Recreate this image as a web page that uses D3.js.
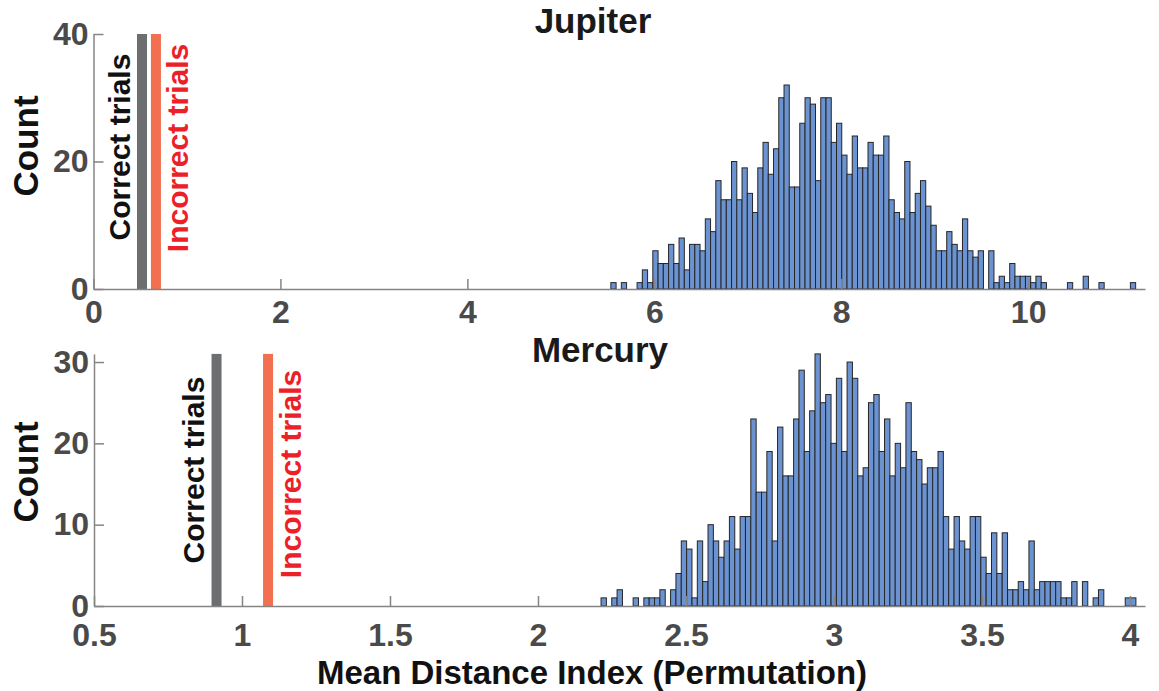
<!DOCTYPE html>
<html>
<head>
<meta charset="utf-8">
<script src="https://cdn.jsdelivr.net/npm/d3@7"></script>
<style>
  body { margin: 0; background: #fff; }
  svg text { font-family: "Liberation Sans", Arial, sans-serif; font-weight: bold; }
</style>
</head>
<body>
<svg id="chart" width="1159" height="691"></svg>
<script>
// permutation histograms, 100 bins each (1000 permutations)
const jupiterCounts = [
  1, 0, 1, 0, 0, 1, 3, 1, 6, 4, 4, 7, 4, 8, 3, 7, 7, 6, 11, 9,
  17, 14, 14, 20, 14, 19, 15, 12, 19, 23, 18, 22, 30, 32,
  16, 16, 26, 30, 29, 17, 30, 30, 23, 26, 21, 18, 24, 19, 19, 23,
  21, 21, 24, 14, 12, 11, 20, 12, 15, 17, 13, 10, 6, 6, 9, 7, 6, 11, 6, 5, 6,
  0, 6, 1, 2, 1, 4, 2, 2, 2, 1, 2, 1,
  0, 0, 0, 0, 1, 0, 0, 2, 0, 0, 1, 0, 0, 0, 0, 0, 1
];
const mercuryCounts = [
  1, 0, 1, 2, 0, 0, 1, 0, 1, 1, 1, 2, 0, 2, 4, 8, 7, 1, 8, 3,
  10, 8, 6, 8, 11, 7, 11, 11, 23, 14, 14, 19,
  8, 22, 16, 16, 23, 29, 19, 24, 31, 25, 26, 20, 28, 19, 30, 28, 16, 17,
  25, 26, 19, 23, 16, 20, 17, 25, 19, 18, 15, 17, 17, 19, 11, 7,
  11, 8, 7, 11, 11, 6, 4, 9, 4, 9, 2, 2, 3, 2, 8, 2, 3, 3, 3, 3,
  1, 1, 3, 0, 3, 0, 1, 2, 0, 0, 0, 0, 1, 1
];
const jupiterBinRange = [5.535, 11.15];
const mercuryBinRange = [2.213, 4.02];

// observed mean distance for real trials
const trialNames = ["Correct trials", "Incorrect trials"];
const jupiterTrialValues = [0.519, 0.668];
const mercuryTrialValues = [0.914, 1.088];

const jupiterXTicks = [0, 2, 4, 6, 8, 10];
const jupiterYTicks = [0, 20, 40];
const mercuryXTicks = [0.5, 1, 1.5, 2, 2.5, 3, 3.5, 4];
const mercuryYTicks = [0, 10, 20, 30];

const svg = d3.select("#chart");
svg.append("rect").attr("width", 1159).attr("height", 691).attr("fill", "#fff");

const trialColors = ["#6d6e70", "#f26f50"];
const trialTextColors = ["#111", "#ec2027"];

function drawPanel(p) {
  const x = d3.scaleLinear().domain(p.xDomain).range([p.left, p.right]);
  const y = d3.scaleLinear().domain(p.yDomain).range([p.bottom, p.top]);
  const g = svg.append("g");

  const n = p.counts.length;
  const step = (p.binRange[1] - p.binRange[0]) / n;
  const bins = p.counts.map((c, i) => ({
    x0: p.binRange[0] + i * step,
    x1: p.binRange[0] + (i + 1) * step,
    count: c
  }));

  g.selectAll("rect.bar")
    .data(bins)
    .join("rect")
    .attr("class", "bar")
    .attr("x", d => x(d.x0))
    .attr("width", d => x(d.x1) - x(d.x0))
    .attr("y", d => y(d.count))
    .attr("height", d => y(0) - y(d.count))
    .attr("fill", "#6b93d1")
    .attr("stroke", "#262626")
    .attr("stroke-width", 1);

  // trial markers
  const trials = trialNames.map((name, i) => ({ name, value: p.trials[i], i }));
  g.selectAll("rect.trial")
    .data(trials)
    .join("rect")
    .attr("class", "trial")
    .attr("x", d => x(d.value) - 5)
    .attr("width", 10)
    .attr("y", y(p.yDomain[1]))
    .attr("height", y(0) - y(p.yDomain[1]))
    .attr("fill", d => trialColors[d.i]);

  g.selectAll("text.trial")
    .data(trials)
    .join("text")
    .attr("class", "trial")
    .attr("transform", d => `translate(${x(d.value) + (d.i === 0 ? -23 : 22)},${p.labelY[d.i]}) rotate(-90)`)
    .attr("text-anchor", "middle")
    .attr("dy", "0.35em")
    .attr("font-size", 30)
    .attr("fill", d => trialTextColors[d.i])
    .text(d => d.name);

  // axes
  const xAxis = g.append("g")
    .attr("transform", `translate(0,${p.bottom})`)
    .call(d3.axisBottom(x).tickValues(p.xTicks).tickSizeInner(-10).tickSizeOuter(0)
      .tickPadding(p.xPad).tickFormat(d3.format("")));
  const yAxis = g.append("g")
    .attr("transform", `translate(${p.left},0)`)
    .call(d3.axisLeft(y).tickValues(p.yTicks).tickSizeInner(-10).tickSizeOuter(0).tickPadding(5));

  [xAxis, yAxis].forEach(a => {
    a.select(".domain").attr("stroke", "#858585").attr("stroke-width", 1.5);
    a.selectAll(".tick line").attr("stroke", "#858585").attr("stroke-width", 1.5);
    a.selectAll(".tick text")
      .attr("font-size", 32)
      .attr("fill", "#4a4a4a")
      .style("font-family", "'Liberation Sans', Arial, sans-serif")
      .style("font-weight", "bold");
  });

  g.append("text")
    .attr("x", p.titleX)
    .attr("y", p.titleY)
    .attr("text-anchor", "middle")
    .attr("font-size", 35)
    .attr("fill", "#1a1a1a")
    .text(p.title);

  g.append("text")
    .attr("transform", `translate(26,${p.countY}) rotate(-90)`)
    .attr("text-anchor", "middle")
    .attr("dy", "0.35em")
    .attr("font-size", 35)
    .attr("fill", "#111")
    .text("Count");
}

drawPanel({
  title: "Jupiter", titleX: 593, titleY: 33,
  counts: jupiterCounts, binRange: jupiterBinRange, trials: jupiterTrialValues,
  xDomain: [0, 11.25], yDomain: [0, 40],
  xTicks: jupiterXTicks, yTicks: jupiterYTicks,
  left: 93.5, right: 1145, top: 34, bottom: 289,
  xPad: 11, labelY: [147, 148], countY: 146
});

drawPanel({
  title: "Mercury", titleX: 600, titleY: 362,
  counts: mercuryCounts, binRange: mercuryBinRange, trials: mercuryTrialValues,
  xDomain: [0.5, 4.0507], yDomain: [0, 31],
  xTicks: mercuryXTicks, yTicks: mercuryYTicks,
  left: 94, right: 1145, top: 353.9, bottom: 606,
  xPad: 17, labelY: [470, 474], countY: 472
});

svg.append("text")
  .attr("x", 592)
  .attr("y", 684)
  .attr("text-anchor", "middle")
  .attr("font-size", 33)
  .attr("fill", "#111")
  .text("Mean Distance Index (Permutation)");
</script>
</body>
</html>
